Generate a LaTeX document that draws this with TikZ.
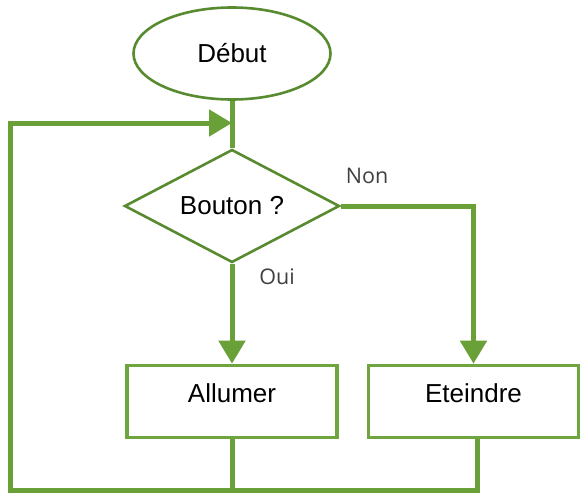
\documentclass[tikz,border=0pt]{standalone}
\usepackage{fontspec}
\setmainfont{Liberation Sans}
\newfontfamily\labelfont{Open Sans}
\usetikzlibrary{shapes.geometric,arrows.meta}

\definecolor{flowline}{RGB}{106,160,56}
\definecolor{boxline}{RGB}{110,165,62}
\definecolor{shapeline}{RGB}{88,138,48}
\definecolor{labelgray}{RGB}{64,64,64}

\tikzset{
  flowtext/.style={font=\fontsize{26}{30}\selectfont, text=black},
  startnode/.style={ellipse, draw=shapeline, line width=2.6pt, inner sep=0pt,
    minimum width=197pt, minimum height=92pt, flowtext},
  decision/.style={diamond, draw=shapeline, line width=2.6pt, inner sep=0pt,
    aspect=1.9, minimum width=215pt, minimum height=113pt, flowtext},
  action/.style={rectangle, draw=boxline, line width=3.6pt, inner sep=0pt,
    minimum width=210pt, minimum height=72pt, text depth=16pt, flowtext},
  flow/.style={draw=flowline, line width=5pt},
  flowarrow/.style={flow, -{Triangle[length=23pt,width=26pt]}},
  branchlabel/.style={font=\labelfont\fontsize{21.5}{26}\selectfont, text=labelgray, inner sep=0pt}
}

\begin{document}
\begin{tikzpicture}[x=1pt,y=-1pt]
  \useasboundingbox (0,0) rectangle (581,495);

  % shapes of the flowchart
  \node[startnode] (start) at (232,53.5) {Début};
  \node[decision] (test) at (232,206) {Bouton ?};
  \node[action] (on) at (232,401.5) {Allumer};
  \node[action] (off) at (473.5,401.5) {Eteindre};

  % branch labels
  \node[branchlabel] (yes) at (277,277) {Oui};
  \node[branchlabel] (no) at (367,176) {Non};

  % points of the return loop
  \coordinate (merge) at (232,123);
  \coordinate (loopright) at (477,490);
  \coordinate (loopleft) at (10,490);
  \coordinate (looptop) at (10,123);

  % connectors
  \draw[flow] (start.south) -- (test.north);
  \draw[flowarrow] (test.south) -- (on.north);
  \draw[flowarrow] (test.east) -| (off.north);
  \draw[flow] (on.south) -- (on.south |- loopright);
  \draw[flowarrow] (off.south -| loopright) -- (loopright) -- (loopleft) -- (looptop) -- (merge);
\end{tikzpicture}
\end{document}
